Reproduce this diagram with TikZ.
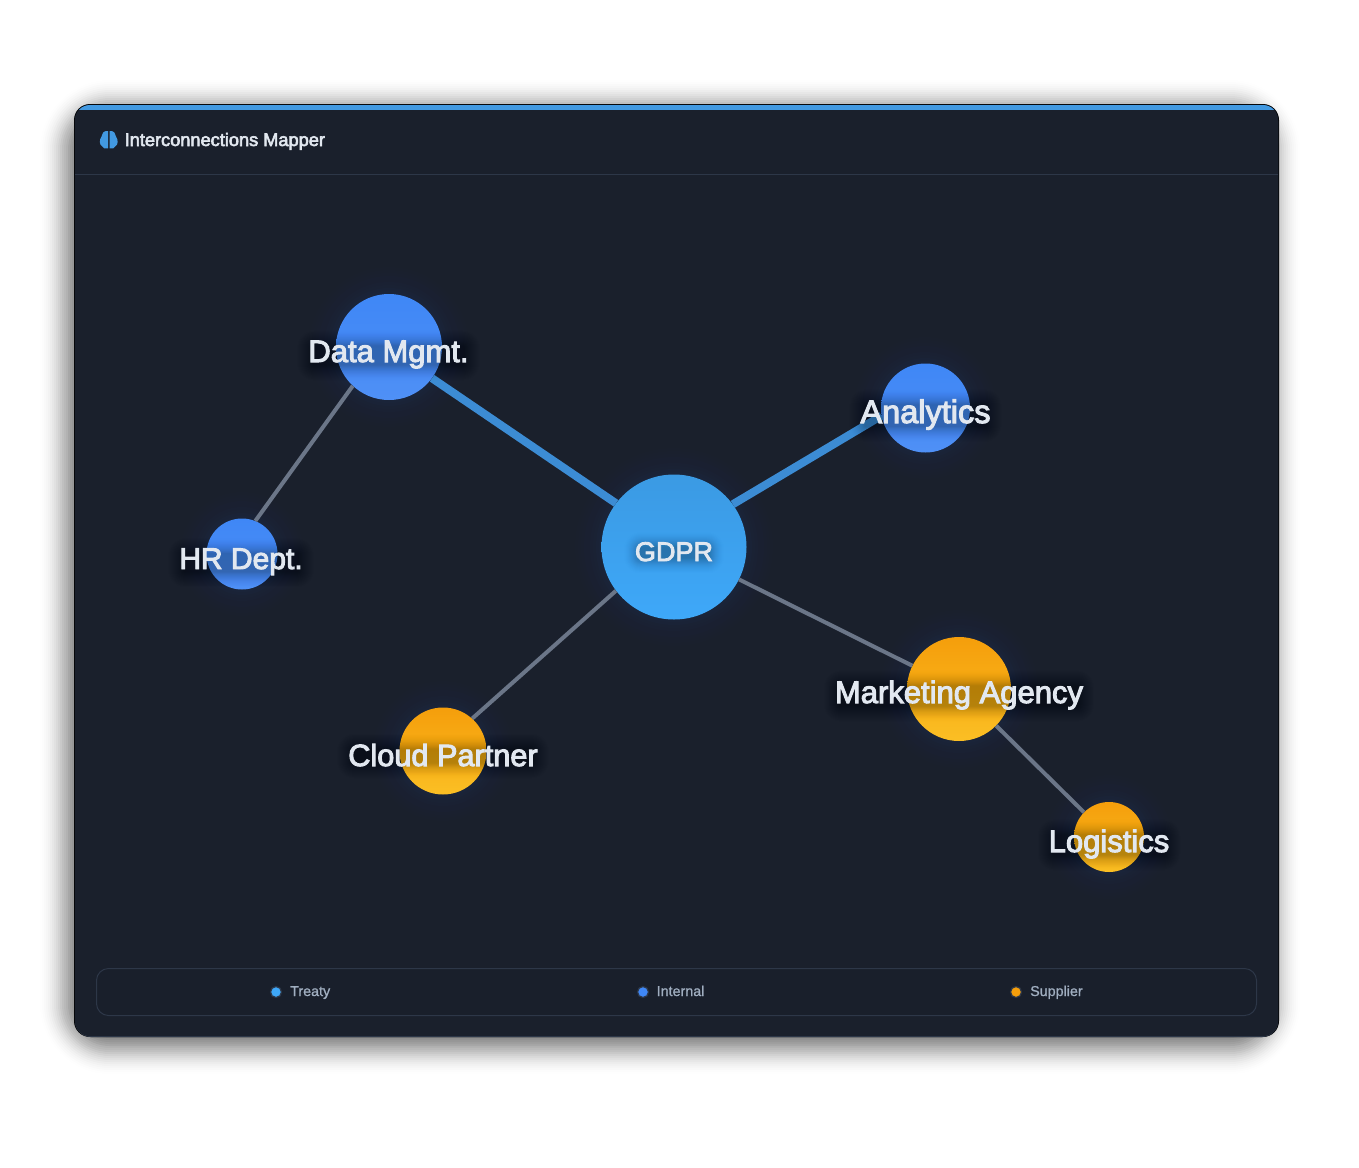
\documentclass[tikz,border=0pt]{standalone}
\usepackage{fontspec}
\setmainfont{Liberation Sans}
\newfontfamily\semib[FakeBold=3.2]{Liberation Sans}
\newfontfamily\medi[FakeBold=1]{Liberation Sans}
\usetikzlibrary{backgrounds}
\definecolor{cardbg}{HTML}{1A202C}
\definecolor{cardline}{HTML}{2D3748}
\definecolor{barblue}{HTML}{4299E1}
\definecolor{treatyA}{HTML}{3B9AE3}
\definecolor{treatyB}{HTML}{3EA8F9}
\definecolor{internalA}{HTML}{3F87F6}
\definecolor{internalB}{HTML}{4F90F6}
\definecolor{supplierA}{HTML}{F59E0B}
\definecolor{supplierB}{HTML}{FBBF24}
\definecolor{strongedge}{HTML}{3C8CD4}
\definecolor{weakedge}{HTML}{6B7688}
\definecolor{labeltext}{HTML}{E2E8F0}
\definecolor{legendtext}{HTML}{A0AEC0}
\definecolor{glowblue}{HTML}{1E5AB0}
\pgfdeclarelayer{top}
\pgfsetlayers{main,top}
\tikzset{
  x=1pt,y=-1pt,
  treaty/.style={circle,draw=none,inner sep=0pt,top color=treatyA,bottom color=treatyB},
  internal/.style={circle,draw=none,inner sep=0pt,top color=internalA,bottom color=internalB},
  supplier/.style={circle,draw=none,inner sep=0pt,top color=supplierA,bottom color=supplierB},
  strong/.style={draw=strongedge,line width=8pt},
  weak/.style={draw=weakedge,line width=4pt},
  lbl/.style={text=labeltext,inner sep=0pt,anchor=base,font=\fontsize{31}{31}\selectfont\semib},
  legendlbl/.style={text=legendtext,inner sep=0pt,anchor=base west,font=\fontsize{14.3}{14.3}\selectfont\medi},
  dot/.style={circle,inner sep=0pt,minimum size=11pt},
}
% soft glow under a circle
\newcommand{\softglow}[3]{%
  \foreach \k in {3,6,...,30}{\pgfmathsetmacro{\op}{.004+.026*(1-\k/30)}\fill[glowblue,opacity=\op] (#1,#2) circle[radius=#3+\k];}}
% label with a soft dark halo
\newcommand{\haloed}[4]{%
  \begin{pgfonlayer}{top}\node[lbl] (#1) at (#2,#3) {#4};\end{pgfonlayer}
  \foreach \k in {-4,-3,...,11}{\pgfmathsetmacro{\rc}{\k+6}\pgfmathsetmacro{\op}{.003+.027*(1-(\k+4)/15)}\fill[black,opacity=\op,rounded corners=\rc pt]
    ([shift={(-\k pt,\k pt-1pt)}]#1.north west) rectangle ([shift={(\k pt,-\k pt-1pt)}]#1.south east);}}
\begin{document}
\begin{tikzpicture}
\useasboundingbox (0,0) rectangle (1359,1167);
\fill[white] (0,0) rectangle (1359,1167);
% card shadow
\foreach \k in {-34,-32,...,34}{\pgfmathsetmacro{\rc}{\k+38}\pgfmathsetmacro{\op}{.001+.05*(1-abs(\k)/34)}\fill[black,opacity=\op,rounded corners=\rc pt]
  (72-\k,112-\k) rectangle (1268+\k,1042+\k);}
% card
\fill[black!75!cardbg,rounded corners=16pt] (74,104) rectangle (1279,1037);
\fill[cardline,rounded corners=16pt] (75,105) rectangle (1278,1037);
\begin{scope}
\clip[rounded corners=15pt] (75,105) rectangle (1278,1036);
\fill[cardbg] (75,105) rectangle (1278,1036);
\fill[barblue] (75,105) rectangle (1278,109.5);
\draw[cardline,line width=1pt] (75,174.5) -- (1278,174.5);
\end{scope}
% brain icon
\fill[barblue] (108,131) .. controls (103,130.5) and (102,134) .. (101.5,136.5) .. controls (99,140) and (99.5,145) .. (102,146) .. controls (102.5,148.5) and (105,148.8) .. (108,148.3) -- cycle;
\fill[barblue] (109.5,131) .. controls (114.5,130.5) and (115.5,134) .. (116,136.5) .. controls (118.5,140) and (118,145) .. (115.5,146) .. controls (115,148.5) and (112.5,148.8) .. (109.5,148.3) -- cycle;
\node[inner sep=0pt,anchor=base west,text=labeltext,font=\fontsize{18.2}{18.2}\selectfont\semib] (title) at (124.5,146) {Interconnections Mapper};
% glows
\softglow{674}{547}{72}
\softglow{389}{347}{53}
\softglow{925}{408}{44}
\softglow{242}{554}{35}
\softglow{443}{751}{43}
\softglow{959}{689}{52}
\softglow{1109}{837}{35}
% nodes
\node[treaty,minimum size=145pt] (gdpr) at (674,547) {};
\node[internal,minimum size=106pt] (data) at (389,347) {};
\node[internal,minimum size=89pt] (analytics) at (925.5,408) {};
\node[internal,minimum size=71pt] (hr) at (242,554) {};
\node[supplier,minimum size=87pt] (cloud) at (443,751) {};
\node[supplier,minimum size=104pt] (marketing) at (959,689) {};
\node[supplier,minimum size=70pt] (logistics) at (1109,837) {};
% connectors
\draw[strong] (gdpr.143.9) -- (data.324);
\draw[strong] (gdpr.36.6) -- (analytics.190.5);
\draw[weak] (gdpr) -- (marketing);
\draw[weak] (gdpr.217.8) -- (cloud.48.9);
\draw[weak] (data.227) -- (hr.68.6);
\draw[weak] (marketing) -- (logistics);
% labels
\haloed{gdprl}{674}{561}{\fontsize{27}{27}\selectfont GDPR}
\haloed{datal}{388.5}{362}{Data Mgmt.}
\haloed{analyticsl}{925.5}{423}{\fontsize{32.5}{32.5}\selectfont Analytics}
\haloed{hrl}{241}{569}{\fontsize{30}{30}\selectfont HR Dept.}
\haloed{cloudl}{443}{766}{\fontsize{30.7}{30.7}\selectfont Cloud Partner}
\haloed{marketingl}{959}{703}{Marketing Agency}
\haloed{logisticsl}{1109}{852}{Logistics}
% legend
\draw[cardline,fill=black!3!cardbg,rounded corners=12pt,line width=1pt] (96.5,968.5) rectangle (1256.5,1015.5);
\node[dot,fill=treatyB,draw=cardline,line width=1.2pt] (d1) at (276,992) {};
\node[legendlbl] (t1) at (290,996) {Treaty};
\node[dot,fill=internalA,draw=cardline,line width=1.2pt] (d2) at (643,992) {};
\node[legendlbl] (t2) at (656.5,996) {Internal};
\node[dot,fill=supplierA,draw=cardline,line width=1.2pt] (d3) at (1016,992) {};
\node[legendlbl] (t3) at (1030,996) {Supplier};
\end{tikzpicture}
\end{document}
